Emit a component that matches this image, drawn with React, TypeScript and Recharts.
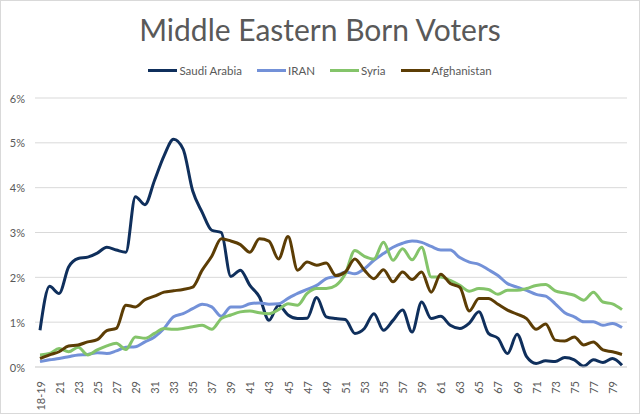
import { LineChart, Line, XAxis, YAxis, CartesianGrid } from "recharts";

const ages = [
  "18-19", "20", "21", "22", "23", "24", "25", "26", "27", "28", "29", "30", "31", "32", "33", "34",
  "35", "36", "37", "38", "39", "40", "41", "42", "43", "44", "45", "46", "47", "48", "49", "50",
  "51", "52", "53", "54", "55", "56", "57", "58", "59", "60", "61", "62", "63", "64", "65", "66",
  "67", "68", "69", "70", "71", "72", "73", "74", "75", "76", "77", "78", "79", "80",
];

const saudi = [
  0.82, 1.8, 1.64, 2.23, 2.42, 2.45, 2.54, 2.67, 2.61, 2.56, 3.8, 3.62, 4.16, 4.71, 5.08, 4.86,
  3.93, 3.45, 3.05, 3.0, 2.02, 2.16, 1.82, 1.56, 1.04, 1.38, 1.16, 1.08, 1.09, 1.55, 1.12, 1.08,
  1.06, 0.75, 0.86, 1.19, 0.82, 1.04, 1.27, 0.78, 1.45, 1.08, 1.13, 0.93, 0.86, 0.98, 1.23, 0.75,
  0.64, 0.3, 0.73, 0.23, 0.08, 0.14, 0.12, 0.21, 0.16, 0.02, 0.16, 0.1, 0.19, 0.04,
];

const iran = [
  0.12, 0.16, 0.19, 0.23, 0.27, 0.28, 0.32, 0.3, 0.36, 0.44, 0.45, 0.56, 0.67, 0.86, 1.12, 1.19,
  1.3, 1.4, 1.34, 1.13, 1.34, 1.34, 1.41, 1.43, 1.4, 1.41, 1.53, 1.64, 1.73, 1.82, 1.97, 2.02,
  2.12, 2.08, 2.19, 2.38, 2.53, 2.67, 2.76, 2.81, 2.78, 2.69, 2.61, 2.61, 2.44, 2.34, 2.29, 2.17,
  2.04, 1.86, 1.78, 1.71, 1.62, 1.58, 1.41, 1.21, 1.12, 1.01, 1.01, 0.93, 0.97, 0.88,
];

const syria = [
  0.27, 0.3, 0.41, 0.34, 0.44, 0.27, 0.38, 0.47, 0.53, 0.39, 0.67, 0.64, 0.75, 0.86, 0.84, 0.86,
  0.9, 0.93, 0.84, 1.08, 1.16, 1.23, 1.25, 1.21, 1.19, 1.28, 1.41, 1.38, 1.64, 1.75, 1.75, 1.82,
  2.08, 2.6, 2.47, 2.41, 2.78, 2.38, 2.64, 2.39, 2.67, 2.01, 2.01, 1.93, 1.82, 1.69, 1.75, 1.73,
  1.62, 1.71, 1.71, 1.75, 1.82, 1.84, 1.7, 1.65, 1.6, 1.49, 1.67, 1.45, 1.41, 1.28,
];

const afghanistan = [
  0.19, 0.27, 0.34, 0.47, 0.49, 0.56, 0.61, 0.81, 0.86, 1.38, 1.34, 1.5, 1.58, 1.67, 1.7, 1.73,
  1.78, 2.16, 2.47, 2.86, 2.81, 2.73, 2.56, 2.86, 2.81, 2.41, 2.91, 2.16, 2.34, 2.27, 2.32, 2.04,
  2.12, 2.41, 2.16, 1.97, 2.17, 1.9, 2.12, 1.95, 2.12, 1.67, 2.07, 1.86, 1.78, 1.25, 1.53, 1.53,
  1.4, 1.27, 1.18, 1.08, 0.84, 0.96, 0.6, 0.58, 0.67, 0.49, 0.56, 0.38, 0.34, 0.28,
];

const yTicks = [0, 1, 2, 3, 4, 5, 6];

const series = [
  { key: "saudi", name: "Saudi Arabia", color: "#0f2f5c" },
  { key: "iran", name: "IRAN", color: "#7391d8" },
  { key: "syria", name: "Syria", color: "#84c46a" },
  { key: "afghanistan", name: "Afghanistan", color: "#5c3d05" },
];

const data = ages.map((age, i) => ({
  age,
  saudi: saudi[i],
  iran: iran[i],
  syria: syria[i],
  afghanistan: afghanistan[i],
}));

const font = "Lato, 'Open Sans', sans-serif";
const grey = "#595959";

function AgeTick({ x, y, payload }: any) {
  return (
    <text
      x={x}
      y={y + 6}
      transform={`rotate(-90, ${x}, ${y + 6})`}
      textAnchor="end"
      dominantBaseline="central"
      fontSize={11}
      fontFamily={font}
      fill={grey}
    >
      {payload.value}
    </text>
  );
}

function PctTick({ y, payload }: any) {
  return (
    <text x={25} y={y} textAnchor="end" dominantBaseline="central" fontSize={11} fontFamily={font} fill={grey}>
      {payload.value}%
    </text>
  );
}

export default function App() {
  return (
    <div style={{ position: "relative", width: 640, height: 415, background: "#fff" }}>
      <style>{"body{margin:0}"}</style>
      <div
        style={{
          position: "absolute",
          left: 0,
          top: 0,
          width: 638,
          height: 412,
          border: "1px solid #d9d9d9",
          pointerEvents: "none",
        }}
      />
      <div
        style={{
          position: "absolute",
          top: 11,
          width: 640,
          textAlign: "center",
          fontFamily: font,
          fontSize: 30,
          color: grey,
        }}
      >
        Middle Eastern Born Voters
      </div>
      {/* legend */}
      <div
        style={{
          position: "absolute",
          top: 64,
          width: 640,
          display: "flex",
          justifyContent: "center",
          gap: 15,
          fontFamily: font,
          fontSize: 11.5,
          color: grey,
        }}
      >
        {series.map((s) => (
          <div key={s.key} style={{ display: "flex", alignItems: "center" }}>
            <span style={{ display: "inline-block", width: 29, height: 3, background: s.color, marginRight: 2 }} />
            {s.name}
          </div>
        ))}
      </div>
      <LineChart width={640} height={415} data={data} margin={{ top: 98, right: 13, bottom: 8, left: 0 }}>
        <CartesianGrid vertical={false} stroke="#d9d9d9" />
        <XAxis
          dataKey="age"
          interval={1}
          height={40}
          tickLine={false}
          axisLine={{ stroke: "#d9d9d9" }}
          padding={{ left: 5, right: 5 }}
          tick={<AgeTick />}
        />
        <YAxis
          width={35}
          domain={[0, 6]}
          ticks={yTicks}
          axisLine={false}
          tickLine={false}
          tick={<PctTick />}
        />
        {series.map((s) => (
          <Line
            key={s.key}
            type="monotone"
            dataKey={s.key}
            name={s.name}
            stroke={s.color}
            strokeWidth={3}
            dot={false}
            isAnimationActive={false}
          />
        ))}
      </LineChart>
    </div>
  );
}
